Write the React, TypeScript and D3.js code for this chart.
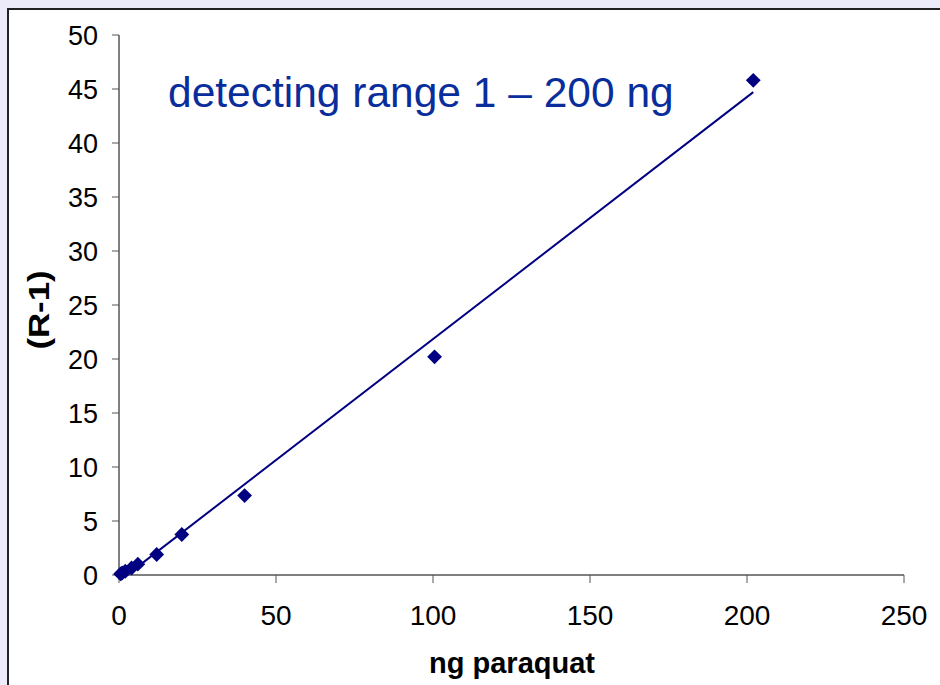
import React from "react";
import * as d3 from "d3";

const xValues = [0.5, 1, 2, 4, 6, 12, 20, 40, 100.5, 202];
const yValues = [0.1, 0.2, 0.35, 0.65, 1.0, 1.9, 3.75, 7.35, 20.2, 45.8];
const xTicks = [0, 50, 100, 150, 200, 250];
const yTicks = [0, 5, 10, 15, 20, 25, 30, 35, 40, 45, 50];
const annotation = "detecting range 1 \u2013 200 ng";
const xTitle = "ng paraquat";
const yTitle = "(R-1)";

const W = 940;
const H = 685;
const FONT = "'Liberation Sans', Arial, sans-serif";
const NAVY = "#000080";

export default function App() {
  const x = d3.scaleLinear().domain([0, 250]).range([119, 904]);
  const y = d3.scaleLinear().domain([0, 50]).range([575, 35]);

  const pts = xValues.map((v, i) => [v, yValues[i]] as [number, number]);
  const mx = d3.mean(xValues)!;
  const my = d3.mean(yValues)!;
  const sxy = d3.sum(pts, (p) => (p[0] - mx) * (p[1] - my));
  const sxx = d3.sum(pts, (p) => (p[0] - mx) ** 2);
  const slope = sxy / sxx;
  const icpt = my - slope * mx;
  const [x0, x1] = d3.extent(xValues) as [number, number];
  const trend = d3.line<number>()
    .x((d) => x(d))
    .y((d) => y(slope * d + icpt))([x0, x1]);

  const diamond = d3.symbol().type(d3.symbolDiamond2 || d3.symbolDiamond).size(140)();

  return (
    <svg
      width={W}
      height={H}
      style={{ position: "absolute", left: 0, top: 0, display: "block" }}
    >
      <rect x={0} y={0} width={W} height={H} fill="#ebebf9" />
      <rect x={8} y={9} width={W + 10} height={H + 10} fill="#ffffff" stroke="#222" strokeWidth={2} />

      {/* y axis */}
      <line x1={x(0)} x2={x(0)} y1={y(50)} y2={y(0)} stroke="#000" strokeWidth={1} />
      {yTicks.map((t) => (
        <g key={"y" + t}>
          <line x1={x(0) - 7} x2={x(0)} y1={y(t)} y2={y(t)} stroke="#555" strokeWidth={1} />
          <text
            x={98}
            y={y(t)}
            dy="0.36em"
            textAnchor="end"
            fontFamily={FONT}
            fontSize={27}
            fill="#000"
          >
            {t}
          </text>
        </g>
      ))}

      {/* x axis */}
      <line x1={x(0)} x2={x(250)} y1={y(0)} y2={y(0)} stroke="#000" strokeWidth={1} />
      {xTicks.map((t) => (
        <g key={"x" + t}>
          <line x1={x(t)} x2={x(t)} y1={y(0)} y2={y(0) + 8} stroke="#555" strokeWidth={1} />
          <text
            x={x(t)}
            y={625}
            textAnchor="middle"
            fontFamily={FONT}
            fontSize={28}
            fill="#000"
          >
            {t}
          </text>
        </g>
      ))}

      {/* trend line */}
      <path d={trend || ""} fill="none" stroke={NAVY} strokeWidth={2} />

      {/* markers */}
      {pts.map((p, i) => (
        <path
          key={i}
          d={diamond || ""}
          transform={`translate(${x(p[0])},${y(p[1])})`}
          fill={NAVY}
        />
      ))}

      {/* annotation */}
      <text x={168} y={107} fontFamily={FONT} fontSize={42.5} fill="#0a2d9c">
        {annotation}
      </text>

      {/* axis titles */}
      <text
        x={512}
        y={673}
        textAnchor="middle"
        fontFamily={FONT}
        fontWeight="bold"
        fontSize={29}
        fill="#000"
      >
        {xTitle}
      </text>
      <text
        transform={`translate(49,310) rotate(-90) scale(1.2,1)`}
        textAnchor="middle"
        fontFamily={FONT}
        fontWeight="bold"
        fontSize={29}
        fill="#000"
      >
        {yTitle}
      </text>
    </svg>
  );
}
